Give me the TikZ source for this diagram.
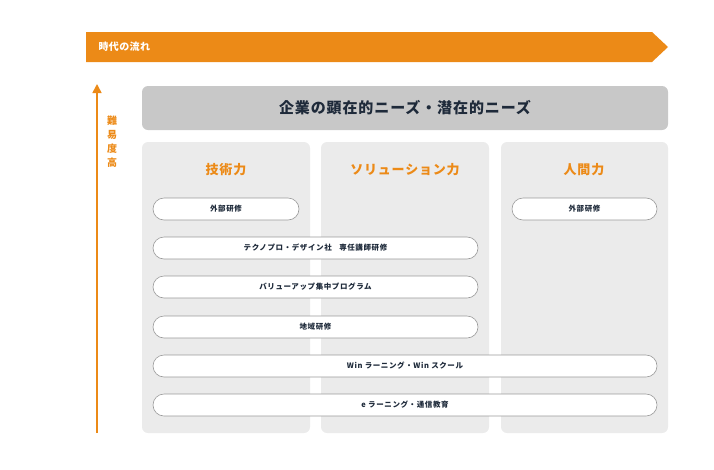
\documentclass[tikz,border=0pt]{standalone}
\usepackage{fontspec}
\setmainfont{Noto Sans CJK JP}
\usetikzlibrary{positioning,arrows.meta}
\definecolor{flow}{HTML}{EC8A17}
\definecolor{colbg}{HTML}{EBEBEB}
\definecolor{headbg}{HTML}{C8C8C8}
\definecolor{navy}{HTML}{1E2A3A}
\tikzset{
	col/.style={fill=colbg, rounded corners=6pt},
	colhead/.style={text=flow, font=\fontsize{13}{13}\selectfont\bfseries\addfontfeature{LetterSpace=6}},
	pill/.style={draw=gray!80, fill=white, rounded corners=11pt, line width=0.6pt},
	pilltext/.style={text=navy, font=\fontsize{7.5}{7.5}\selectfont\bfseries\addfontfeature{LetterSpace=8}}
}
\begin{document}
\begin{tikzpicture}[x=1pt, y=-1pt]
	\useasboundingbox (0,0) rectangle (714,469);

	% time flow arrow
	\fill [flow] (86,32) -- (652,32) -- (668,47) -- (652,62) -- (86,62) -- cycle;
	\node [anchor=west, text=white, font=\fontsize{10}{10}\selectfont\bfseries\addfontfeature{LetterSpace=4}] (flowtxt) at (95,47) {時代の流れ};

	% difficulty arrow
	\coordinate (lvlbot) at (97,433);
	\coordinate (lvltop) at (97,84);
	\draw [flow, line width=1.6pt, -{Triangle[length=9pt, width=9pt]}] (lvlbot) -- (lvltop);
	\node [text=flow, font=\fontsize{10}{14}\selectfont\bfseries, align=center] (lvltxt) at (112,142) {難\\易\\度\\高};

	% needs banner
	\fill [headbg, rounded corners=6pt] (142,86) rectangle (668,130);
	\node [text=navy, font=\fontsize{15}{15}\selectfont\bfseries\addfontfeature{LetterSpace=6}] (needs) at (405,108) {企業の顕在的ニーズ・潜在的ニーズ};

	% columns
	\fill [col] (142,142) rectangle (310,433);
	\fill [col] (321,142) rectangle (489,433);
	\fill [col] (501,142) rectangle (668,433);
	\node [colhead] (tech) at (226,170) {技術力};
	\node [colhead] (sol) at (405,170) {ソリューション力};
	\node [colhead] (hum) at (584,170) {人間力};

	% programmes
	\draw [pill] (153,198) rectangle (299,220);
	\node [pilltext] (ext1) at (226,209) {外部研修};
	\draw [pill] (512,198) rectangle (657,220);
	\node [pilltext] (ext2) at (584.5,209) {外部研修};
	\draw [pill] (153,237) rectangle (478,259);
	\node [pilltext] (lect) at (315.5,248) {テクノプロ・デザイン社\quad 専任講師研修};
	\draw [pill] (153,276) rectangle (478,298);
	\node [pilltext] (valup) at (315.5,287) {バリューアップ集中プログラム};
	\draw [pill] (153,316) rectangle (478,338);
	\node [pilltext] (area) at (315.5,327) {地域研修};
	\draw [pill] (153,355) rectangle (657,377);
	\node [pilltext] (win) at (405,366) {Win ラーニング・Win スクール};
	\draw [pill] (153,394) rectangle (657,416);
	\node [pilltext] (elrn) at (405,405) {e ラーニング・通信教育};
\end{tikzpicture}
\end{document}
